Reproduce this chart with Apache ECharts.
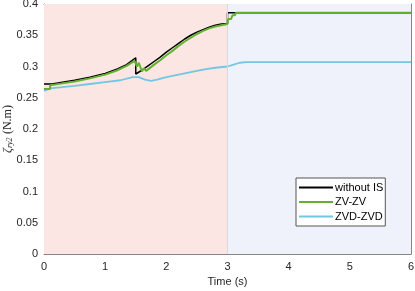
<!DOCTYPE html>
<html><head><meta charset="utf-8">
<script src="https://cdn.jsdelivr.net/npm/echarts@6/dist/echarts.min.js"></script>
<style>html,body{margin:0;padding:0;background:#fff}#c{width:415px;height:291px}</style>
</head><body><div id="c"></div>
<script>
const xTicks = [0,1,2,3,4,5,6];
const seriesNames = ['without IS','ZV-ZV','ZVD-ZVD'];
const tBlack = [0,0.13,0.3,0.5,0.75,1.0,1.2,1.35,1.5,1.5,1.6,1.7,1.8,1.9,2.0,2.1,2.2,2.3,2.4,2.5,2.6,2.7,2.8,2.9,3.0,3.0,6];
const vBlack = [0.272,0.272,0.275,0.278,0.283,0.289,0.296,0.303,0.314,0.288,0.294,0.301,0.308,0.315,0.323,0.330,0.337,0.344,0.350,0.355,0.359,0.363,0.366,0.368,0.369,0.386,0.386];
const tGreen = [0,0.1,0.1,0.3,0.5,0.75,1.0,1.2,1.35,1.48,1.52,1.55,1.6,1.63,1.67,1.8,1.9,2.0,2.1,2.2,2.3,2.4,2.5,2.6,2.7,2.8,2.9,3.0,3.01,3.06,3.08,3.12,3.14,6];
const vGreen = [0.264,0.264,0.270,0.273,0.276,0.281,0.287,0.294,0.301,0.309,0.300,0.306,0.292,0.297,0.293,0.303,0.310,0.318,0.325,0.333,0.340,0.346,0.352,0.357,0.361,0.364,0.366,0.368,0.376,0.376,0.382,0.382,0.386,0.386];
const tCyan = [0,0.1,0.3,0.5,0.75,1.0,1.25,1.45,1.55,1.65,1.75,1.85,2.0,2.2,2.4,2.6,2.8,3.0,3.1,3.2,3.3,6];
const vCyan = [0.261,0.265,0.267,0.269,0.272,0.275,0.278,0.283,0.283,0.279,0.277,0.279,0.283,0.287,0.291,0.295,0.298,0.300,0.303,0.306,0.307,0.307];

const zip = (t,v) => t.map((x,i)=>[x,v[i]]);
const chart = echarts.init(document.getElementById('c'), null, {renderer:'canvas'});
const axisCol = '#868686';
const lblStyle = {color:'#262626', fontSize:11, fontFamily:'Liberation Sans, Arial, sans-serif'};
chart.setOption({
  animation:false,
  backgroundColor:'#fff',
  grid:{left:44, right:4, top:4, bottom:37, show:false, containLabel:false, outerBoundsMode:'none'},
  legend:{
    data:seriesNames, orient:'vertical', left:296, top:178,
    icon:'rect', itemWidth:34, itemHeight:2, itemGap:3.5,
    backgroundColor:'#fff', borderColor:'#555', borderWidth:1,
    padding:[4,2,4,3],
    textStyle:{color:'#000', fontSize:11, lineHeight:11, fontFamily:'Liberation Sans, Arial, sans-serif', padding:[0,0,0,-3]}
  },
  xAxis:[{
    type:'value', min:0, max:6, interval:1,
    name:'Time (s)', nameLocation:'middle', nameGap:22, nameMoveOverlap:false,
    nameTextStyle:{color:'#262626', fontSize:11, fontFamily:'Liberation Sans, Arial, sans-serif'},
    axisLine:{show:true, onZero:false, lineStyle:{color:axisCol}},
    axisTick:{show:true, inside:true, length:3, lineStyle:{color:axisCol}},
    axisLabel:Object.assign({margin:7}, lblStyle),
    splitLine:{show:false}
  },{
    type:'value', min:0, max:6, interval:1, position:'top',
    axisLine:{show:true, onZero:false, lineStyle:{color:axisCol}},
    axisTick:{show:true, inside:true, length:3, lineStyle:{color:axisCol}},
    axisLabel:{show:false}, splitLine:{show:false}
  }],
  yAxis:[{
    type:'value', min:0, max:0.4, interval:0.05,
    name:'{g|ζ}{s|ry2} {n|(N.m)}', nameLocation:'middle', nameGap:30, nameRotate:90, nameMoveOverlap:false,
    nameTextStyle:{color:'#262626', rich:{
      g:{fontFamily:'Liberation Serif, serif', fontStyle:'italic', fontSize:12, color:'#262626'},
      s:{fontFamily:'Liberation Serif, serif', fontStyle:'italic', fontSize:8, color:'#262626', verticalAlign:'bottom', padding:[4,0,0,0]},
      n:{fontFamily:'Liberation Serif, serif', fontSize:12, color:'#262626'}
    }},
    axisLine:{show:true, onZero:false, lineStyle:{color:axisCol}},
    axisTick:{show:true, inside:true, length:3, lineStyle:{color:axisCol}},
    axisLabel:Object.assign({margin:6}, lblStyle),
    splitLine:{show:false}
  },{
    type:'value', min:0, max:0.4, interval:0.05, position:'right',
    axisLine:{show:true, onZero:false, lineStyle:{color:axisCol}},
    axisTick:{show:true, inside:true, length:3, lineStyle:{color:axisCol}},
    axisLabel:{show:false}, splitLine:{show:false}
  }],
  series:[
    {
      name:seriesNames[0], type:'line', data:zip(tBlack,vBlack), showSymbol:false,
      lineStyle:{color:'#000', width:1.5}, itemStyle:{color:'#000'}, z:4,
      markArea:{silent:true, data:[
        [{xAxis:0, itemStyle:{color:'#fbe6e4'}},{xAxis:3}],
        [{xAxis:3, itemStyle:{color:'#eff2fa'}},{xAxis:6}]
      ]},
      markLine:{silent:true, symbol:'none', label:{show:false},
        lineStyle:{color:'#d9d9d9', width:1, type:'solid'}, data:[{xAxis:3}]}
    },
    {
      name:seriesNames[1], type:'line', data:zip(tGreen,vGreen), showSymbol:false,
      lineStyle:{color:'#62b22f', width:2}, itemStyle:{color:'#62b22f'}, z:5
    },
    {
      name:seriesNames[2], type:'line', data:zip(tCyan,vCyan), showSymbol:false,
      lineStyle:{color:'#72c7e2', width:1.8}, itemStyle:{color:'#72c7e2'}, z:3
    }
  ]
});
</script></body></html>
